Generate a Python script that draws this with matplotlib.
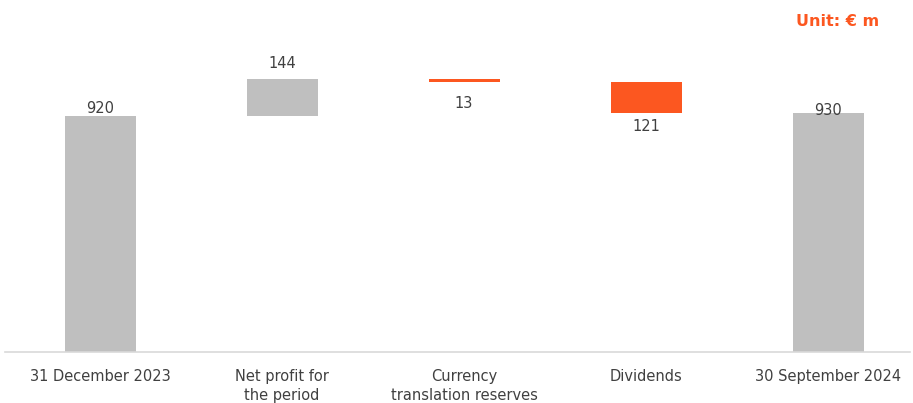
import numpy as np
import matplotlib.pyplot as plt

categories = ["31 December 2023", "Net profit for\nthe period", "Currency\ntranslation reserves",
              "Dividends", "30 September 2024"]
changes = [920, 144, -13, -121, 930]
is_total = [True, False, False, False, True]
labels = ["920", "144", "13", "121", "930"]

gray = "#BFBFBF"
orange = "#FC5720"
text_col = "#404040"

# compute waterfall bottoms
bottoms = []
heights = []
running = 0
for c, tot in zip(changes, is_total):
    if tot:
        bottoms.append(0)
        heights.append(c)
        running = c
    else:
        if c >= 0:
            bottoms.append(running)
        else:
            bottoms.append(running + c)
        heights.append(abs(c))
        running += c

colors = [gray if (tot or c >= 0) else orange for c, tot in zip(changes, is_total)]

fig = plt.figure(figsize=(9.13, 4.03), dpi=100)
ax = fig.add_axes([5 / 913, 51 / 403, 905 / 913, 342 / 403])
x = np.arange(len(categories))
ax.bar(x, heights, bottom=bottoms, width=0.39, color=colors, edgecolor="none")

ax.set_xlim(-0.522, 4.45)
ax.set_ylim(0, 1333)

# label offsets (points) tuned by eye
offsets = [0, 6, -10, -4, -3]
for i, (b, h, c, tot) in enumerate(zip(bottoms, heights, changes, is_total)):
    if tot or c >= 0:
        ax.annotate(labels[i], (x[i], b + h), xytext=(0, offsets[i]), textcoords="offset points",
                    ha="center", va="bottom", fontsize=10.5, color=text_col)
    else:
        ax.annotate(labels[i], (x[i], b), xytext=(0, offsets[i]), textcoords="offset points",
                    ha="center", va="top", fontsize=10.5, color=text_col)

ax.set_xticks(x)
ax.set_xticklabels(categories, fontsize=10.5, color=text_col, linespacing=1.4)
ax.tick_params(axis="x", length=0, pad=12)
ax.set_yticks([])
for s in ["top", "left", "right"]:
    ax.spines[s].set_visible(False)
ax.spines["bottom"].set_color("#D9D9D9")
ax.spines["bottom"].set_linewidth(1.2)

fig.text(838 / 913, 1 - 22 / 403, "Unit: € m", color=orange, fontsize=11.5,
         fontweight="semibold", ha="center", va="center")

fig.savefig("out.png", dpi=100)
